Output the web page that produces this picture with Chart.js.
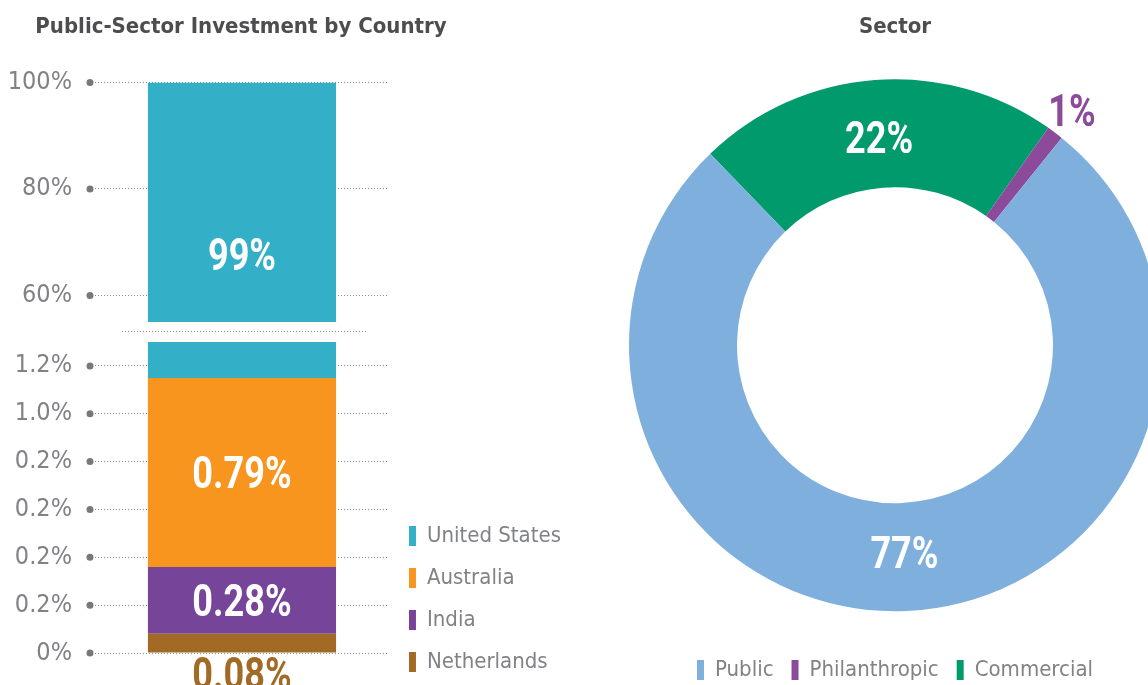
<!DOCTYPE html>
<html>
<head>
<meta charset="utf-8">
<title>Public-Sector Investment</title>
<script src="https://cdn.jsdelivr.net/npm/chart.js@4.4.1/dist/chart.umd.min.js"></script>
<style>
  html, body { margin: 0; padding: 0; background: #fff; width: 1148px; height: 685px; overflow: hidden; }
  .panel { position: absolute; }
</style>
</head>
<body>
<div class="panel" style="left:0;top:0;width:482px;height:340px"><canvas id="upperChart"></canvas></div>
<div class="panel" style="left:0;top:320px;width:571px;height:373px"><canvas id="lowerChart"></canvas></div>
<div class="panel" style="left:600px;top:0;width:590px;height:691px"><canvas id="sectorChart"></canvas></div>
<script>
// ===== Data =====
const countries = ["Netherlands", "India", "Australia", "United States"];
const countryShares = [0.08, 0.28, 0.79, 98.85];
const countryShareLabels = ["0.08%", "0.28%", "0.79%", "99%"];

const upperTicks = [60, 80, 100];
const upperTickLabels = ["60%", "80%", "100%"];
const lowerTicks = [0, 0.2, 0.4, 0.6, 0.8, 1.0, 1.2];
const lowerTickLabels = ["0%", "0.2%", "0.2%", "0.2%", "0.2%", "1.0%", "1.2%"];

const sectors = ["Public", "Philanthropic", "Commercial"];
const sectorShares = [77, 1, 22];
const sectorShareLabels = ["77%", "1%", "22%"];

// ===== Colours / fonts =====
const countryColors = ["#a36a26", "#76459a", "#f7951f", "#33afc8"];
const sectorColors = ["#7fb0dd", "#8c4a9b", "#009a6d"];
const FONT = "'DejaVu Sans Condensed', 'DejaVu Sans', sans-serif";
const LABEL_FONT = "bold 44px Roboto, 'DejaVu Sans', sans-serif";
const GREY = "#808285";
const TITLE = "#4d4d4f";

Chart.defaults.font.family = FONT;
Chart.defaults.color = GREY;
Chart.defaults.animation = false;

// narrow the big value labels a bit, the installed fonts are wide.
// y is the visual centre of the digits (baseline + half cap height)
function condensedText(ctx, text, x, y) {
  ctx.save();
  ctx.translate(x, y + 15.5);
  ctx.scale(0.82, 1);
  ctx.fillText(text, 0, 0);
  ctx.restore();
}

// ===== Plugins =====
// round dot at the start of every gridline
const tickDots = {
  id: "tickDots",
  afterDraw(chart) {
    const { ctx, chartArea, scales } = chart;
    ctx.save();
    ctx.fillStyle = "#77787b";
    scales.y.ticks.forEach(t => {
      ctx.beginPath();
      ctx.arc(chartArea.left - 5, scales.y.getPixelForValue(t.value), 3.5, 0, Math.PI * 2);
      ctx.fill();
    });
    ctx.restore();
  }
};

// value labels on the visible part of each stacked segment
const barLabels = {
  id: "barLabels",
  afterDatasetsDraw(chart, args, opts) {
    const { ctx, chartArea } = chart;
    ctx.save();
    ctx.textAlign = "center";
    ctx.textBaseline = "alphabetic";
    ctx.font = LABEL_FONT;
    chart.data.datasets.forEach((ds, i) => {
      const bar = chart.getDatasetMeta(i).data[0];
      const top = Math.max(Math.min(bar.y, bar.base), chartArea.top);
      const bottom = Math.min(Math.max(bar.y, bar.base), chartArea.bottom);
      const h = bottom - top;
      if (h <= 0) return;
      if (h >= 60) {
        ctx.fillStyle = "#fff";
        condensedText(ctx, countryShareLabels[i], bar.x, top + h * (opts.at || 0.5));
      } else if (i === 0) {
        ctx.fillStyle = ds.backgroundColor;
        condensedText(ctx, countryShareLabels[i], bar.x, chartArea.bottom + 20);
      }
    });
    ctx.restore();
  }
};

// dotted break line under the upper panel
const axisBreak = {
  id: "axisBreak",
  afterDraw(chart) {
    const { ctx, chartArea } = chart;
    ctx.save();
    ctx.strokeStyle = "#8a8c8e";
    ctx.setLineDash([1, 2]);
    ctx.beginPath();
    ctx.moveTo(chartArea.left + 27, chartArea.bottom + 9.5);
    ctx.lineTo(chartArea.right - 22, chartArea.bottom + 9.5);
    ctx.stroke();
    ctx.restore();
  }
};

const arcLabels = {
  id: "arcLabels",
  afterDatasetsDraw(chart) {
    const { ctx } = chart;
    const meta = chart.getDatasetMeta(0);
    const ds = chart.data.datasets[0];
    ctx.save();
    ctx.textAlign = "center";
    ctx.textBaseline = "alphabetic";
    ctx.font = LABEL_FONT;
    meta.data.forEach((arc, i) => {
      const { x, y, startAngle, endAngle, innerRadius, outerRadius } =
        arc.getProps(["x", "y", "startAngle", "endAngle", "innerRadius", "outerRadius"], true);
      const mid = (startAngle + endAngle) / 2;
      let r = (innerRadius + outerRadius) / 2 - 4;
      ctx.fillStyle = "#fff";
      if (ds.data[i] < 5) {
        r = outerRadius + 28;
        ctx.fillStyle = ds.backgroundColor[i];
      }
      condensedText(ctx, ds.labels[i], x + Math.cos(mid) * r, y + Math.sin(mid) * r);
    });
    ctx.restore();
  }
};

// ===== Shared bar pieces =====
function countryDatasets() {
  return countries.map((c, i) => ({
    label: c,
    data: [countryShares[i]],
    backgroundColor: countryColors[i],
    borderWidth: 0,
    barPercentage: 0.64,
    categoryPercentage: 1
  }));
}

function hiddenX(height) {
  return {
    type: "category",
    stacked: true,
    display: true,
    grid: { display: false },
    border: { display: false },
    ticks: { display: false },
    afterFit: s => { s.height = height; }
  };
}

function valueAxis(min, max, ticks, labels) {
  return {
    min, max,
    stacked: true,
    grid: {
      color: "#8a8c8e", lineWidth: 1,
      drawTicks: true, tickLength: 23, tickColor: "rgba(0,0,0,0)"
    },
    border: { display: false, dash: [1, 2] },
    afterBuildTicks: s => { s.ticks = ticks.map(v => ({ value: v })); },
    afterFit: s => { s.width = 95; },
    ticks: {
      padding: 0,
      color: GREY,
      font: { size: 25 },
      callback: v => labels[ticks.indexOf(v)]
    }
  };
}

// ===== Lower panel (0 - 1.3%) =====
const lowerChart = new Chart(document.getElementById("lowerChart"), {
  type: "bar",
  data: { labels: [""], datasets: countryDatasets() },
  options: {
    responsive: true,
    maintainAspectRatio: false,
    layout: { padding: { top: 22 } },
    scales: {
      x: hiddenX(40),
      y: valueAxis(0, 1.3, lowerTicks, lowerTickLabels)
    },
    plugins: {
      legend: {
        position: "right",
        align: "end",
        reverse: true,
        maxWidth: 300,
        labels: {
          boxWidth: 7, boxHeight: 20, padding: 20,
          color: GREY, font: { size: 22 }
        }
      },
      tooltip: { enabled: false },
      barLabels: { at: 0.5 }
    }
  },
  plugins: [tickDots, barLabels]
});

// ===== Upper panel (55 - 100%) =====
const rightGap = 482 - lowerChart.chartArea.right;
new Chart(document.getElementById("upperChart"), {
  type: "bar",
  data: { labels: [""], datasets: countryDatasets() },
  options: {
    responsive: true,
    maintainAspectRatio: false,
    scales: {
      x: hiddenX(18),
      y: valueAxis(55, 100, upperTicks, upperTickLabels),
      yRight: {
        position: "right",
        display: true,
        grid: { display: false },
        border: { display: false },
        ticks: { display: false },
        afterFit: s => { s.width = rightGap; }
      }
    },
    plugins: {
      legend: { display: false },
      tooltip: { enabled: false },
      title: {
        display: true,
        text: "Public-Sector Investment by Country",
        color: TITLE,
        font: { size: 22, weight: "bold" },
        padding: { top: 14, bottom: 42 }
      },
      barLabels: { at: 0.72 }
    }
  },
  plugins: [tickDots, barLabels, axisBreak]
});

// ===== Sector doughnut =====
// drawn clockwise from Commercial, legend read back in source order
const drawOrder = [2, 1, 0];
new Chart(document.getElementById("sectorChart"), {
  type: "doughnut",
  data: {
    labels: drawOrder.map(i => sectors[i]),
    datasets: [{
      data: drawOrder.map(i => sectorShares[i]),
      labels: drawOrder.map(i => sectorShareLabels[i]),
      backgroundColor: drawOrder.map(i => sectorColors[i]),
      borderWidth: 0,
      hoverOffset: 0
    }]
  },
  options: {
    responsive: true,
    maintainAspectRatio: false,
    rotation: -44,
    cutout: "59.4%",
    layout: { padding: { left: 29, right: 29 } },
    plugins: {
      title: {
        display: true,
        text: "Sector",
        color: TITLE,
        font: { size: 22, weight: "bold" },
        padding: { top: 14, bottom: 9 }
      },
      legend: {
        position: "bottom",
        reverse: true,
        labels: {
          boxWidth: 7, boxHeight: 20, padding: 18,
          color: GREY, font: { size: 22 }
        }
      },
      tooltip: { enabled: false }
    }
  },
  plugins: [arcLabels]
});
</script>
</body>
</html>
